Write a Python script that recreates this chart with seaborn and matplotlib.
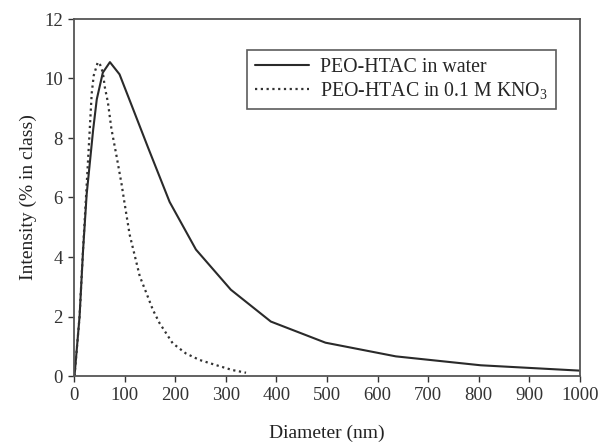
import matplotlib
matplotlib.use("Agg")
import matplotlib.pyplot as plt
import seaborn as sns
import pandas as pd

water_x = [1, 11, 18, 25, 38, 45, 57, 71, 90, 115, 147, 189, 241, 310, 389, 497, 636, 804, 1000]
water_y = [0, 2.0, 4.25, 6.1, 8.3, 9.3, 10.2, 10.55, 10.14, 9.05, 7.65, 5.85, 4.25, 2.9, 1.83, 1.12, 0.66, 0.36, 0.18]

kno3_x = [1, 11, 18, 25, 31, 35, 39, 47, 52, 57, 61, 67, 74, 84, 94, 100, 110, 120, 130, 143, 156, 169, 195, 221, 248, 280, 313, 340]
kno3_y = [0, 2.0, 4.3, 6.4, 8.25, 9.5, 10.1, 10.55, 10.45, 10.2, 9.7, 9.2, 8.3, 7.4, 6.45, 5.8, 4.75, 4.05, 3.35, 2.79, 2.22, 1.78, 1.1, 0.76, 0.54, 0.37, 0.2, 0.11]

label_water = "PEO-HTAC in water"
label_kno3 = "PEO-HTAC in 0.1 M KNO$_3$"
x_ticks = list(range(0, 1001, 100))
y_ticks = list(range(0, 13, 2))

sns.set_style("ticks")
plt.rcParams['font.family'] = ['Liberation Serif', 'DejaVu Serif']
plt.rcParams['mathtext.fontset'] = 'custom'
plt.rcParams['mathtext.rm'] = 'Liberation Serif'
plt.rcParams['mathtext.it'] = 'Liberation Serif:italic'

fig = plt.figure(figsize=(6.03, 4.48), dpi=100)
ax = fig.add_axes([74/603, 1-376/448, (580-74)/603, (376-19)/448])

df_w = pd.DataFrame({"x": water_x, "y": water_y})
df_k = pd.DataFrame({"x": kno3_x, "y": kno3_y})
sns.lineplot(data=df_w, x="x", y="y", ax=ax, color="#2a2a2a", lw=1.5, label=label_water, sort=False)
sns.lineplot(data=df_k, x="x", y="y", ax=ax, color="#333333", lw=1.6, linestyle=(0, (1, 1.6)), label=label_kno3, sort=False)

ax.set_xlim(0, 1000)
ax.set_ylim(0, 12)
ax.set_xticks(x_ticks)
ax.set_yticks(y_ticks)
ax.tick_params(axis='both', labelsize=13.5, colors="#333333", length=4, width=1)
ax.tick_params(axis='x', pad=4)
ax.tick_params(axis='y', pad=4)
for s in ax.spines.values():
    s.set_color("#555555")
    s.set_linewidth(1.3)
    s.set_visible(True)

ax.set_xlabel("Diameter (nm)", fontsize=14, color="#222222", labelpad=15)
ax.set_ylabel("Intensity (% in class)", fontsize=14, color="#222222", labelpad=5)

leg = ax.legend(loc="upper left", bbox_to_anchor=((247-74)/506, 1-(50-19)/357),
                borderaxespad=0, frameon=True, fancybox=False, edgecolor="#333333",
                fontsize=14.3, handlelength=2.7, borderpad=0.4, labelspacing=0.15,
                handletextpad=0.6)
leg.get_frame().set_linewidth(1.2)

fig.savefig("out.png", dpi=100)
